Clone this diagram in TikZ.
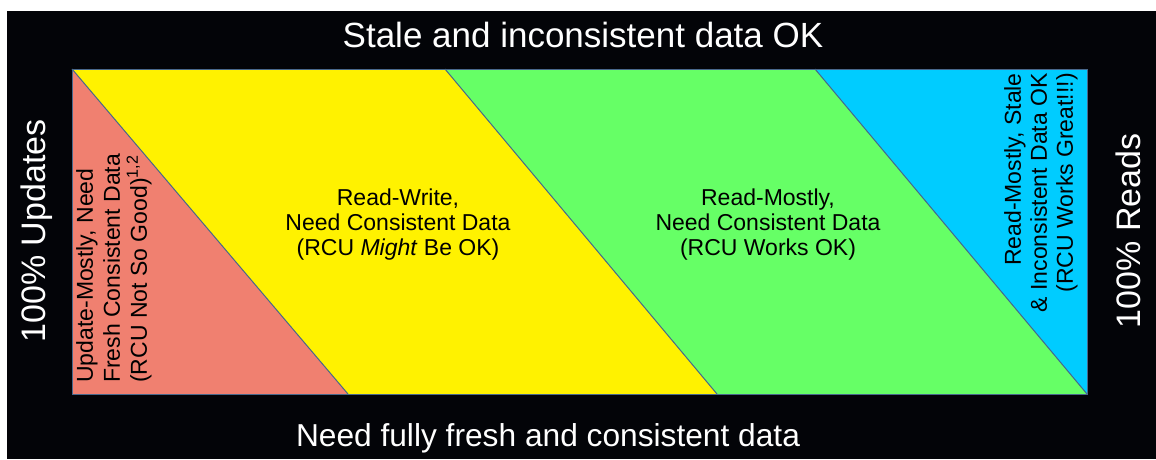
\documentclass[tikz,border=0pt]{standalone}
\usepackage{fontspec}
\setmainfont{Liberation Sans}
\definecolor{bgdark}{RGB}{3,4,8}
\definecolor{edge}{RGB}{72,104,140}
\definecolor{zred}{RGB}{240,128,112}
\definecolor{zyellow}{RGB}{255,242,0}
\definecolor{zgreen}{RGB}{102,255,102}
\definecolor{zblue}{RGB}{0,204,255}
\tikzset{
  axislabel/.style={text=white, inner sep=0pt, font=\fontsize{34}{36}\selectfont},
  zonelabel/.style={text=black, inner sep=0pt, align=center, font=\fontsize{23}{25}\selectfont},
  sidelabel/.style={text=black, inner sep=0pt, rotate=90, font=\fontsize{23}{27}\selectfont},
  zoneedge/.style={draw=edge, line width=1pt},
}
\begin{document}
\begin{tikzpicture}[x=1pt, y=-1pt]
  \useasboundingbox (0,0) rectangle (1156,459);
  \fill[white] (0,0) rectangle (1156,459);
  \fill[bgdark] (7,11) rectangle (1156,459);

  % corners of the chart and the zone boundaries
  \coordinate (tl) at (72,69);
  \coordinate (tr) at (1087,69);
  \coordinate (br) at (1087,394);
  \coordinate (bl) at (72,394);
  \coordinate (rb) at (348,394);
  \coordinate (yt) at (445,69);
  \coordinate (yb) at (717,394);
  \coordinate (gt) at (815,69);

  % coloured zones
  \fill[zred] (tl) -- (rb) -- (bl) -- cycle;
  \fill[zyellow] (tl) -- (yt) -- (yb) -- (rb) -- cycle;
  \fill[zgreen] (yt) -- (gt) -- (br) -- (yb) -- cycle;
  \fill[zblue] (gt) -- (tr) -- (br) -- cycle;

  % outline and diagonal boundaries
  \draw[zoneedge] (tl) rectangle (br);
  \draw[zoneedge] (tl) -- (rb);
  \draw[zoneedge] (yt) -- (yb);
  \draw[zoneedge] (gt) -- (br);

  % axis labels
  \node[axislabel, anchor=base, font=\fontsize{35}{37}\selectfont] (top) at (583,47) {Stale and inconsistent data OK};
  \node[axislabel, anchor=base, font=\fontsize{31.7}{34}\selectfont] (bottom) at (548,446) {Need fully fresh and consistent data};
  \node[axislabel, rotate=90] (left) at (37,231) {100\% Updates};
  \node[axislabel, rotate=90] (right) at (1128,231) {100\% Reads};

  % zone labels
  \node[zonelabel] (rw) at (398,225) {Read-Write,\\Need Consistent Data\\(RCU \textit{Might} Be OK)};
  \node[zonelabel] (rm) at (768,225) {Read-Mostly,\\Need Consistent Data\\(RCU Works OK)};
  \node[sidelabel, anchor=west, align=left] (um) at (114,383)
    {Update-Mostly, Need\\Fresh Consistent Data\\(RCU Not So Good)\textsuperscript{1,2}};
  \node[sidelabel, anchor=east, align=right, font=\fontsize{23}{26}\selectfont] (rs) at (1041,73)
    {Read-Mostly, Stale\\\& Inconsistent Data OK\\(RCU Works Great!!!)};
\end{tikzpicture}
\end{document}
